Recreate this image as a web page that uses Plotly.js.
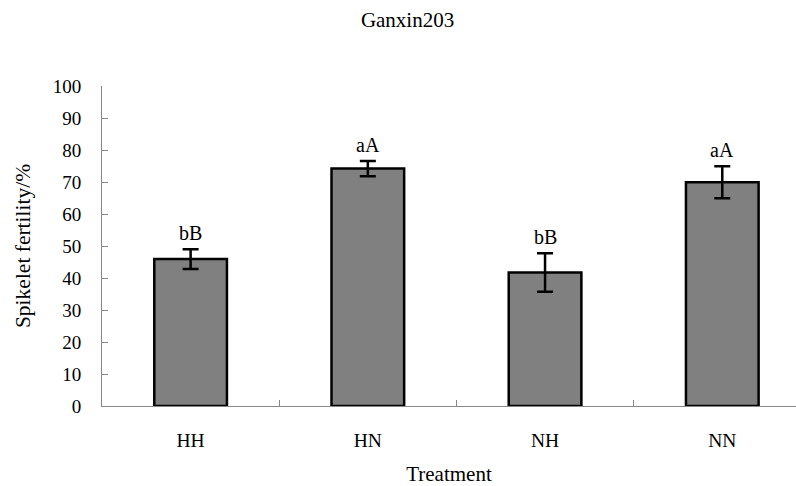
<!DOCTYPE html>
<html><head><meta charset="utf-8">
<script src="https://cdn.plot.ly/plotly-3.0.1.min.js"></script>
<style>body{margin:0}#c{width:796px;height:486px}</style>
</head><body><div id="c"></div>
<script>
const categories = ["HH", "HN", "NH", "NN"];
const values = [45.9, 74.2, 41.7, 69.9];
const errors = [3.1, 2.4, 6.0, 5.0];
const letters = ["bB", "aA", "bB", "aA"];

const font = {family: "Liberation Serif", color: "#000"};

const trace = {
  type: "bar", x: categories, y: values, width: 0.41,
  marker: {color: "#808080", line: {color: "#000", width: 2.5}},
  error_y: {type: "data", array: errors, visible: true, color: "#000", thickness: 2.5, width: 8},
  hoverinfo: "none"
};

const annotations = categories.map((c, i) => ({
  x: c, y: values[i] + errors[i], text: letters[i], showarrow: false,
  xref: "x", yref: "y", yanchor: "bottom", yshift: 3,
  font: Object.assign({size: 20}, font)
}));

const layout = {
  width: 796, height: 486,
  margin: {l: 102, r: 0, t: 86, b: 80},
  paper_bgcolor: "#fff", plot_bgcolor: "#fff",
  showlegend: false,
  font: font,
  title: {text: "Ganxin203", x: 0.512, xanchor: "center", y: 0.96, yanchor: "middle", font: Object.assign({size: 21}, font)},
  xaxis: {
    type: "category", range: [-0.5, 3.416], tickson: "boundaries",
    ticks: "inside", ticklen: 6, tickcolor: "#888", tickwidth: 1,
    showline: true, linecolor: "#888", linewidth: 1, showgrid: false, zeroline: false,
    tickfont: Object.assign({size: 19.5}, font), ticklabelstandoff: 17,
    title: {text: "Treatment", font: Object.assign({size: 21}, font), standoff: 18}
  },
  yaxis: {
    range: [0, 100], tickvals: [0,10,20,30,40,50,60,70,80,90,100],
    ticks: "inside", ticklen: 6, tickcolor: "#888", tickwidth: 1,
    showline: true, linecolor: "#888", linewidth: 1, showgrid: false, zeroline: false,
    tickfont: Object.assign({size: 19}, font), ticklabelstandoff: 16,
    title: {text: "Spikelet fertility/%", font: Object.assign({size: 21.5}, font), standoff: 16}
  },
  annotations: annotations
};

Plotly.newPlot("c", [trace], layout, {displayModeBar: false, staticPlot: true});
</script>
</body></html>
